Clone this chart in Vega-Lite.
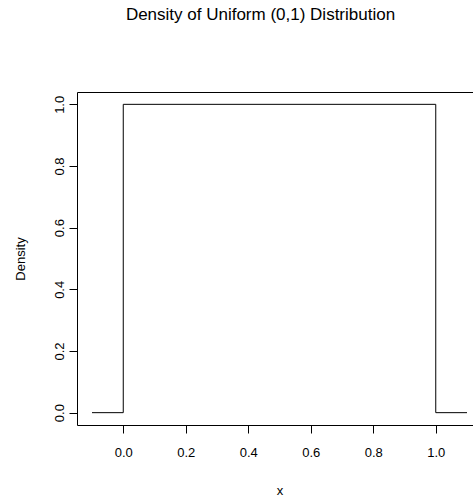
{
  "$schema": "https://vega.github.io/schema/vega-lite/v6.json",
  "autosize": {"type": "none"},
  "padding": {"left": 77, "top": 92, "right": 0, "bottom": 72},
  "width": 405,
  "height": 333,
  "background": "white",
  "title": {
    "text": "Density of Uniform (0,1) Distribution",
    "font": "Liberation Sans",
    "fontSize": 17,
    "fontWeight": "normal",
    "color": "black",
    "anchor": "middle",
    "dx": -19,
    "offset": 68
  },
  "config": {
    "view": {"stroke": "black", "strokeWidth": 1},
    "axis": {
      "labelFont": "Liberation Sans",
      "titleFont": "Liberation Sans",
      "labelFontSize": 13,
      "titleFontSize": 13,
      "titleFontWeight": "normal",
      "labelColor": "black",
      "titleColor": "black",
      "tickColor": "black",
      "tickSize": 8,
      "domain": false,
      "grid": false
    }
  },
  "data": {
    "values": [
      {"i": 1, "x": -0.1, "density": 0},
      {"i": 2, "x": 0, "density": 0},
      {"i": 3, "x": 0, "density": 1},
      {"i": 4, "x": 1, "density": 1},
      {"i": 5, "x": 1, "density": 0},
      {"i": 6, "x": 1.1, "density": 0}
    ]
  },
  "mark": {"type": "line", "color": "black", "strokeWidth": 1, "clip": true},
  "encoding": {
    "x": {
      "field": "x",
      "type": "quantitative",
      "scale": {"domain": [-0.148, 1.148], "nice": false, "zero": false},
      "axis": {
        "values": [0, 0.2, 0.4, 0.6, 0.8, 1.0],
        "format": ".1f",
        "labelPadding": 13,
        "title": "x",
        "titlePadding": 25
      }
    },
    "y": {
      "field": "density",
      "type": "quantitative",
      "scale": {"domain": [-0.04, 1.04], "nice": false, "zero": false},
      "axis": {
        "values": [0, 0.2, 0.4, 0.6, 0.8, 1.0],
        "format": ".1f",
        "labelAngle": -90,
        "labelAlign": "center",
        "labelBaseline": "bottom",
        "labelPadding": 3,
        "title": "Density",
        "titlePadding": 26
      }
    },
    "order": {"field": "i", "type": "quantitative"}
  }
}
